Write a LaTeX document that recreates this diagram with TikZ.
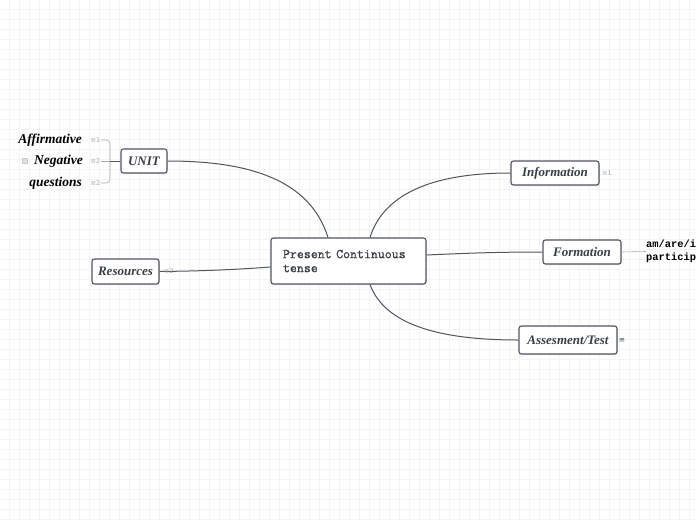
\documentclass[tikz,border=0pt]{standalone}
\usepackage{fontspec}
\setmainfont{Liberation Serif}
\newfontfamily\symfont{DejaVu Sans}
\newfontfamily\cmono[FakeBold=0.9]{Latin Modern Mono}
\newfontfamily\nmono{Liberation Mono}
\usetikzlibrary{shadows}
\definecolor{edge}{HTML}{50565E}
\definecolor{txt}{HTML}{3A3F46}
\definecolor{gridc}{HTML}{F4F4F4}
\definecolor{faint}{HTML}{A8A8A8}
\tikzset{
  topic/.style={draw=edge, line width=1.1pt, rounded corners=2.5pt, fill=white,
    font=\bfseries\itshape\fontsize{13}{15}\selectfont, text=txt, inner sep=0pt,
    minimum height=24pt,
    drop shadow={shadow xshift=0.8pt, shadow yshift=-1pt, opacity=0.22}},
  conn/.style={draw=edge, line width=1pt},
  sub/.style={font=\bfseries\itshape\fontsize{13.5}{15}\selectfont, text=black, inner sep=0pt, anchor=east},
  icon/.style={font=\symfont\fontsize{6.5}{7}\selectfont, text=faint, inner sep=0.5pt},
  thin/.style={draw=faint, line width=0.6pt}
}
\begin{document}
\begin{tikzpicture}[x=1pt,y=-1pt]
\useasboundingbox (0,0) rectangle (696,520);
\clip (0,0) rectangle (696,520);
\fill[white] (0,0) rectangle (696,520);
\foreach \g in {9,19,...,699} {\draw[gridc, line width=0.5pt] (\g,0) -- (\g,520);}
\foreach \g in {9,19,...,519} {\draw[gridc, line width=0.5pt] (0,\g) -- (696,\g);}

% central
\node[topic, font=\cmono\fontsize{13.5}{14}\selectfont, text=txt, minimum width=155pt, minimum height=46pt,
      text width=131pt, align=left] (central) at (348.5,261) {Present Continuous\\tense};

% main topics
\node[topic, minimum width=46pt] (unit) at (144,161) {UNIT};
\node[topic, minimum width=88pt] (info) at (555,173) {Information};
\node[topic, minimum width=78pt] (form) at (582,252) {Formation};
\node[topic, minimum width=98pt, minimum height=28pt] (asses) at (568,340) {Assesment/Test};
\node[topic, minimum width=67pt, minimum height=25pt] (res) at (125.5,271.5) {Resources};

% connectors
\draw[conn] ([xshift=-20.5pt]central.north) .. controls (310,180) and (250,161) .. (unit.east);
\draw[conn] ([xshift=21.5pt]central.north) .. controls (385,190) and (440,173) .. (info.west);
\draw[conn] ([yshift=6pt]central.east) .. controls (470,253) and (500,252) .. (form.west);
\draw[conn] ([xshift=21.5pt]central.south) .. controls (385,325) and (440,340) .. (asses.west);
\draw[conn] ([yshift=-6pt]central.west) .. controls (230,270) and (200,271) .. (res.east);

% icons on topics
\node[icon] (infoicon) at (607,173) {≡1};
\node[icon] (resicon) at (169,271.5) {≡2};
\node[icon, text=edge, font=\symfont\fontsize{7.5}{8}\selectfont] (assicon) at (622,340) {≡};

% UNIT subtopics
\node[sub] (aff) at (82,140) {Affirmative};
\node[sub] (neg) at (83,161) {Negative};
\node[sub] (que) at (82,183) {questions};
\fill[gray!25, draw=gray!40, line width=0.3pt] (22.5,158.5) rectangle (27.5,163.5);
\node[icon] (i1) at (95.5,140) {≡1};
\node[icon] (i2) at (95.5,161) {≡2};
\node[icon] (i3) at (95.5,183) {≡2};
\coordinate (bk) at (110,161);
\draw[thin, rounded corners=4pt] (i1.east) -| (bk) |- (i3.east);
\draw[thin] (i2.east) -- (bk);
\draw[conn] (bk) -- (unit.west);

% Formation note
\node[inner sep=0pt, anchor=west, align=left, font=\nmono\bfseries\fontsize{10.4}{13}\selectfont]
  (fnote) at (646,251.5) {am/are/is +\\participle};
\draw[thin] (form.east) -- (fnote.west);
\end{tikzpicture}
\end{document}
